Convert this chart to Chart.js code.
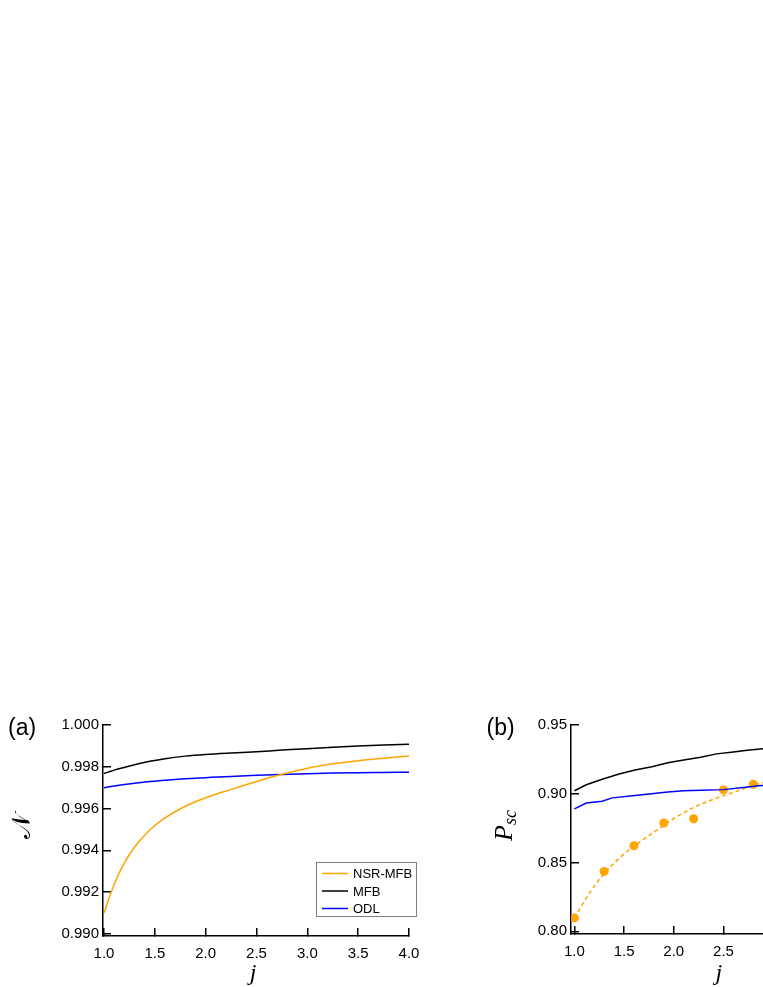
<!DOCTYPE html>
<html>
<head>
<meta charset="utf-8">
<script src="https://cdn.jsdelivr.net/npm/chart.js@4.4.0/dist/chart.umd.min.js"></script>
<style>
  html, body { margin: 0; padding: 0; background: #fff; }
  body { width: 763px; height: 987px; overflow: hidden; position: relative; }
  canvas { position: absolute; }
  #chartA { left: 0; top: 700px; }
  #chartB { left: 440px; top: 700px; }
</style>
</head>
<body>
<canvas id="chartA" width="440" height="287"></canvas>
<canvas id="chartB" width="460" height="287"></canvas>
<script>
// --- panel (a): fidelity vs j ---
const jA = [1.0, 1.05, 1.1, 1.2, 1.3, 1.45, 1.6, 1.8, 2.0, 2.25, 2.5, 2.75, 3.0, 3.25, 3.5, 3.75, 4.0];
const nsrMfbA = [0.99100, 0.99172, 0.99238, 0.99340, 0.99415, 0.99497, 0.99555, 0.99611, 0.99652, 0.99692, 0.99730, 0.99764, 0.99793, 0.99814, 0.99829, 0.99841, 0.99852];
const mfbA = [0.99768, 0.99776, 0.99784, 0.99797, 0.99810, 0.99826, 0.99839, 0.99851, 0.99859, 0.99866, 0.99872, 0.99880, 0.99886, 0.99893, 0.99899, 0.99904, 0.99908];
const odlA = [0.99700, 0.99704, 0.99708, 0.99715, 0.99721, 0.99729, 0.99736, 0.99743, 0.99748, 0.99754, 0.99759, 0.99763, 0.99767, 0.99770, 0.99772, 0.99773, 0.99774];
const xTicksA = [1.0, 1.5, 2.0, 2.5, 3.0, 3.5, 4.0];
const yTicksA = [0.990, 0.992, 0.994, 0.996, 0.998, 1.000];

// --- panel (b): P_sc vs j ---
const jMfbB = [1.0, 1.12, 1.28, 1.45, 1.61, 1.78, 1.94, 2.1, 2.27, 2.43, 2.6, 2.76, 2.9, 3.0];
const mfbB = [0.9022, 0.9065, 0.9106, 0.9144, 0.9173, 0.9197, 0.9226, 0.9246, 0.9265, 0.9290, 0.9304, 0.9319, 0.9327, 0.9332];
const jOdlB = [1.0, 1.12, 1.28, 1.38, 1.61, 1.94, 2.1, 2.27, 2.5, 2.7, 2.85, 3.0];
const odlB = [0.8890, 0.8932, 0.8946, 0.8970, 0.8988, 0.9012, 0.9022, 0.9026, 0.9030, 0.9045, 0.9058, 0.9065];
const jDotsB = [1.0, 1.3, 1.6, 1.9, 2.2, 2.5, 2.8];
const nsrDotsB = [0.8097, 0.8435, 0.8622, 0.8787, 0.8818, 0.9028, 0.9069];
const jFitB = [1.0, 1.15, 1.3, 1.45, 1.6, 1.8, 2.0, 2.2, 2.4, 2.6, 2.8, 3.0];
const nsrFitB = [0.8097, 0.8275, 0.8420, 0.8530, 0.8620, 0.8720, 0.8820, 0.8900, 0.8960, 0.9010, 0.9060, 0.9100];
const xTicksB = [1.0, 1.5, 2.0, 2.5, 3.0, 3.5, 4.0];
const yTicksB = [0.80, 0.85, 0.90, 0.95];

const ORANGE = '#FFA500';
const BLUE = '#0000FF';
const SANS = '"Liberation Sans", Arial, sans-serif';
const SERIF = '"Liberation Serif", "Times New Roman", serif';

const pts = (xs, ys) => xs.map((x, i) => ({ x: x, y: ys[i] }));

// panel label, axis titles, and the boxed legend of panel (a)
const decorPlugin = {
    id: 'decor',
    afterDraw(chart, args, opts) {
        const ctx = chart.ctx;
        const area = chart.chartArea;
        ctx.save();
        ctx.fillStyle = '#000';

        // (a) / (b)
        ctx.font = '23px ' + SANS;
        ctx.textAlign = 'left';
        ctx.textBaseline = 'middle';
        ctx.fillText(opts.panel, opts.panelX, area.top + 4);

        // x title
        ctx.font = 'italic 24px ' + SERIF;
        ctx.textAlign = 'center';
        ctx.textBaseline = 'alphabetic';
        ctx.fillText('j', (area.left + area.right) / 2 - 3, chart.height - 7);

        // y title, rotated
        ctx.save();
        ctx.translate(opts.yTitleX, (area.top + area.bottom) / 2 - 4);
        ctx.rotate(-Math.PI / 2);
        ctx.textBaseline = 'middle';
        if (opts.ySub) {
            ctx.font = 'italic 26px ' + SERIF;
            const w1 = ctx.measureText(opts.yTitle).width;
            ctx.font = 'italic 18px ' + SERIF;
            const w2 = ctx.measureText(opts.ySub).width;
            const x0 = -(w1 + w2) / 2;
            ctx.textAlign = 'left';
            ctx.font = 'italic 26px ' + SERIF;
            ctx.fillText(opts.yTitle, x0, 0);
            ctx.font = 'italic 18px ' + SERIF;
            ctx.fillText(opts.ySub, x0 + w1, 6);
        } else {
            ctx.font = '26px "DejaVu Serif", "DejaVu Sans", serif';
            ctx.textAlign = 'center';
            ctx.fillText(opts.yTitle, 0, 0);
        }
        ctx.restore();

        // legend box inside the plot
        if (opts.legend) {
            const left = area.right - 93;
            const top = area.bottom - 74;
            ctx.fillStyle = '#fff';
            ctx.fillRect(left, top, 100, 54);
            ctx.strokeStyle = '#808080';
            ctx.lineWidth = 1;
            ctx.strokeRect(left + 0.5, top + 0.5, 100, 54);
            ctx.font = '13px ' + SANS;
            ctx.textAlign = 'left';
            ctx.textBaseline = 'middle';
            chart.data.datasets.forEach((ds, i) => {
                const y = top + 11.5 + i * 17.5;
                ctx.strokeStyle = ds.borderColor;
                ctx.lineWidth = 1.5;
                ctx.beginPath();
                ctx.moveTo(left + 6, y);
                ctx.lineTo(left + 32, y);
                ctx.stroke();
                ctx.fillStyle = '#000';
                ctx.fillText(ds.label, left + 37, y + 1);
            });
        }
        ctx.restore();
    }
};

function axisX(min, max, ticks, height) {
    return {
        type: 'linear',
        min: min,
        max: max,
        afterBuildTicks: s => { s.ticks = ticks.map(v => ({ value: v })); },
        afterFit: s => { s.height = height; },
        border: { display: true, color: '#000', width: 1.5 },
        grid: { drawOnChartArea: false, drawTicks: true, tickLength: -8, color: '#000', lineWidth: 1.5 },
        ticks: {
            padding: 17,
            color: '#000',
            maxRotation: 0,
            font: { family: SANS, size: 15 },
            callback: v => v.toFixed(1)
        }
    };
}

function axisY(min, max, ticks, width, digits) {
    return {
        type: 'linear',
        min: min,
        max: max,
        afterBuildTicks: s => { s.ticks = ticks.map(v => ({ value: v })); },
        afterFit: s => { s.width = width; },
        border: { display: true, color: '#000', width: 1.5 },
        grid: { drawOnChartArea: false, drawTicks: true, tickLength: -8, color: '#000', lineWidth: 1.5 },
        ticks: {
            padding: 12,
            color: '#000',
            font: { family: SANS, size: 15 },
            callback: v => v.toFixed(digits)
        }
    };
}

const lineStyle = { pointRadius: 0, borderWidth: 1.5, fill: false, cubicInterpolationMode: 'monotone' };

new Chart(document.getElementById('chartA'), {
    type: 'line',
    data: {
        datasets: [
            Object.assign({ label: 'NSR-MFB', data: pts(jA, nsrMfbA), borderColor: ORANGE }, lineStyle),
            Object.assign({ label: 'MFB', data: pts(jA, mfbA), borderColor: '#000' }, lineStyle),
            Object.assign({ label: 'ODL', data: pts(jA, odlA), borderColor: BLUE }, lineStyle)
        ]
    },
    options: {
        responsive: false,
        animation: false,
        devicePixelRatio: 1,
        layout: { padding: { top: 25, right: 31, left: 0, bottom: 0 } },
        scales: {
            x: axisX(0.99, 4.0, xTicksA, 51),
            y: axisY(0.9899, 1.0, yTicksA, 103, 3)
        },
        plugins: {
            legend: { display: false },
            tooltip: { enabled: false },
            decor: { panel: '(a)', panelX: 8, yTitle: '\u{1D4A9}', yTitleX: 23, legend: true }
        }
    },
    plugins: [decorPlugin]
});

new Chart(document.getElementById('chartB'), {
    type: 'line',
    data: {
        datasets: [
            Object.assign({ label: 'MFB', data: pts(jMfbB, mfbB), borderColor: '#000' }, lineStyle, { cubicInterpolationMode: 'default', tension: 0 }),
            Object.assign({ label: 'ODL', data: pts(jOdlB, odlB), borderColor: BLUE }, lineStyle, { cubicInterpolationMode: 'default', tension: 0 }),
            Object.assign({ label: 'NSR-MFB fit', data: pts(jFitB, nsrFitB), borderColor: ORANGE, borderDash: [4, 3] }, lineStyle),
            {
                label: 'NSR-MFB',
                data: pts(jDotsB, nsrDotsB),
                showLine: false,
                pointRadius: 4.5,
                pointBorderWidth: 0,
                pointBackgroundColor: ORANGE,
                borderColor: ORANGE
            }
        ]
    },
    options: {
        responsive: false,
        animation: false,
        devicePixelRatio: 1,
        layout: { padding: { top: 25, right: 21, left: 0, bottom: 0 } },
        scales: {
            x: axisX(0.966, 4.0, xTicksB, 53),
            y: axisY(0.798, 0.95, yTicksB, 131, 2)
        },
        plugins: {
            legend: { display: false },
            tooltip: { enabled: false },
            decor: { panel: '(b)', panelX: 46.5, yTitle: 'P', ySub: 'sc', yTitleX: 65, legend: false }
        }
    },
    plugins: [decorPlugin]
});
</script>
</body>
</html>
